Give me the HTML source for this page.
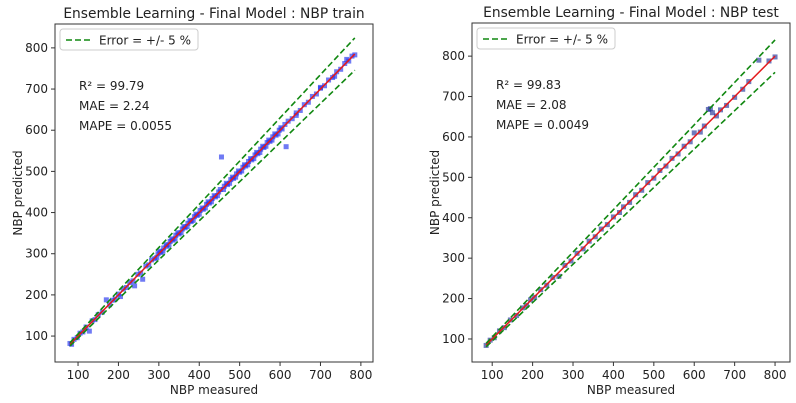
<!DOCTYPE html>
<html><head><meta charset="utf-8"><style>
body{margin:0;background:#fff;}
svg{display:block;font-family:"DejaVu Sans","Liberation Sans",sans-serif;}
</style></head><body>
<svg id="chart" width="796" height="403" viewBox="0 0 796 403" xmlns="http://www.w3.org/2000/svg"></svg>
<script>
const trainMeasured=[80,84,90,98,105,112,120,128,135,142,150,160,170,178,185,192,200,205,212,220,228,236,240,248,255,260,268,275,282,290,298,305,312,320,328,335,342,350,358,365,372,380,388,395,402,410,418,425,432,440,448,455,462,470,478,485,492,500,508,515,522,530,538,545,552,560,568,575,582,590,598,605,612,615,620,630,640,650,660,670,680,690,700,710,720,730,740,750,760,770,778,785,
 295,302,310,318,325,332,340,347,355,362,370,377,385,392,400,407,415,422,430,437,445,452,460,467,475,482,490,497,505,512,520,527,535,542,550,557,565,572,580,587,595,602,640,700,735,765];
const trainPredicted=[82,80,92,96,107,110,122,112,137,140,152,158,188,176,187,190,202,196,214,218,230,234,222,250,253,238,270,273,285,288,300,303,314,318,330,333,345,348,360,363,374,378,390,393,405,408,420,423,434,438,450,535,464,468,480,483,494,498,510,513,524,528,540,543,554,558,570,573,584,588,600,603,614,560,622,628,642,648,662,668,682,688,702,708,722,728,742,748,762,768,780,783,
 291,306,306,322,321,336,336,351,351,366,366,381,381,396,396,411,411,426,426,441,441,456,456,471,471,486,486,501,501,516,516,531,531,546,546,561,561,576,576,591,591,606,636,704,731,772];
const testMeasured=[85,95,105,118,130,145,160,175,185,195,205,220,235,250,265,280,295,310,325,340,355,370,385,400,415,425,440,455,470,485,500,515,530,545,560,575,590,600,615,625,635,640,645,655,665,680,700,720,735,760,785,800];
const testPredicted=[84,97,103,120,128,147,158,177,183,197,203,222,233,252,255,282,293,312,323,342,353,372,383,402,413,427,438,457,468,487,498,517,528,547,558,577,588,610,612,627,668,670,660,652,667,678,698,718,737,790,788,798];
const xTicks=[100,200,300,400,500,600,700,800];
const yTicks=[100,200,300,400,500,600,700,800];

const NS="http://www.w3.org/2000/svg";
const svg=document.getElementById('chart');
function mk(tag,attrs,parent){const e=document.createElementNS(NS,tag);for(const k in attrs)e.setAttribute(k,attrs[k]);(parent||svg).appendChild(e);return e;}

function panel(cfg){
  const g=mk('g',{});
  
  
  const L=cfg.L,R=cfg.R,T=cfg.T,B=cfg.B;
  const sx=v=>L+(v-cfg.xmin)/(cfg.xmax-cfg.xmin)*(R-L);
  const sy=v=>B-(v-cfg.ymin)/(cfg.ymax-cfg.ymin)*(B-T);
  const xs=cfg.mx, ys=cfg.py;
  const lo=Math.min(...xs), hi=Math.max(...xs);
  for(let i=0;i<xs.length;i++){
    const r=mk('rect',{x:sx(xs[i])-2.5,y:sy(ys[i])-2.5,width:5,height:5,fill:cfg.color,'fill-opacity':0.65},g);
    
    
  }
  const rl=mk('line',{x1:sx(lo),y1:sy(lo),x2:sx(hi),y2:sy(hi),stroke:'#e41a1c','stroke-width':1.5},g);
  
  
  for(const f of [1.05,0.95]){
    const d=mk('line',{x1:sx(lo),y1:sy(lo*f),x2:sx(hi),y2:sy(hi*f),stroke:'#118811','stroke-width':1.6,'stroke-dasharray':'6,3'},g);
    
    
  }
  const fr=mk('rect',{x:L,y:T,width:R-L,height:B-T,fill:'none',stroke:'#333','stroke-width':1},g);
  
  
  for(const t of xTicks){
    mk('line',{x1:sx(t),x2:sx(t),y1:B,y2:B+4,stroke:'#333'},g);
    const tx=mk('text',{x:sx(t),y:B+17,'font-size':12,'text-anchor':'middle',fill:'#222'},g);
    tx.textContent=t;
    
    
  }
  for(const t of yTicks){
    mk('line',{x1:L-4,x2:L,y1:sy(t),y2:sy(t),stroke:'#333'},g);
    const tx=mk('text',{x:L-7,y:sy(t)+4,'font-size':12,'text-anchor':'end',fill:'#222'},g);
    tx.textContent=t;
    
    
  }
  const tt=mk('text',{x:(L+R)/2,y:T-6,'font-size':13.8,'text-anchor':'middle',fill:'#222'},g);
  tt.textContent=cfg.title;
  
  
  const xl=mk('text',{x:(L+R)/2,y:B+32,'font-size':12,'text-anchor':'middle',fill:'#222'},g);
  xl.textContent='NBP measured';
  
  
  const yl=mk('text',{x:0,y:0,'font-size':12,'text-anchor':'middle',fill:'#222',transform:`translate(${L-33},${(T+B)/2}) rotate(-90)`},g);
  yl.textContent='NBP predicted';
  
  
  const lg=mk('g',{},g);
  
  
  mk('rect',{x:L+5,y:T+5,width:138,height:21,rx:3,fill:'#fff',stroke:'#ccc'},lg);
  mk('line',{x1:L+11,x2:L+35,y1:T+16,y2:T+16,stroke:'#118811','stroke-width':1.6,'stroke-dasharray':'6,3'},lg);
  const lt=mk('text',{x:L+44,y:T+20.5,'font-size':12,fill:'#222'},lg);
  lt.textContent='Error = +/- 5 %';
  cfg.stats.forEach((s,i)=>{
    const st=mk('text',{x:L+24,y:T+66+i*20,'font-size':12,fill:'#222'},g);
    st.textContent=s;
    
    
  });
}
panel({name:'train-panel',L:55,R:373,T:24,B:362,xmin:43,xmax:830,ymin:37,ymax:858,mx:trainMeasured,py:trainPredicted,color:'#2233ee',title:'Ensemble Learning - Final Model : NBP train',stats:['R² = 99.79','MAE = 2.24','MAPE = 0.0055']});
panel({name:'test-panel',L:472,R:790,T:23,B:362,xmin:50,xmax:837,ymin:43,ymax:882,mx:testMeasured,py:testPredicted,color:'#223399',title:'Ensemble Learning - Final Model : NBP test',stats:['R² = 99.83','MAE = 2.08','MAPE = 0.0049']});
</script>
</body></html>
